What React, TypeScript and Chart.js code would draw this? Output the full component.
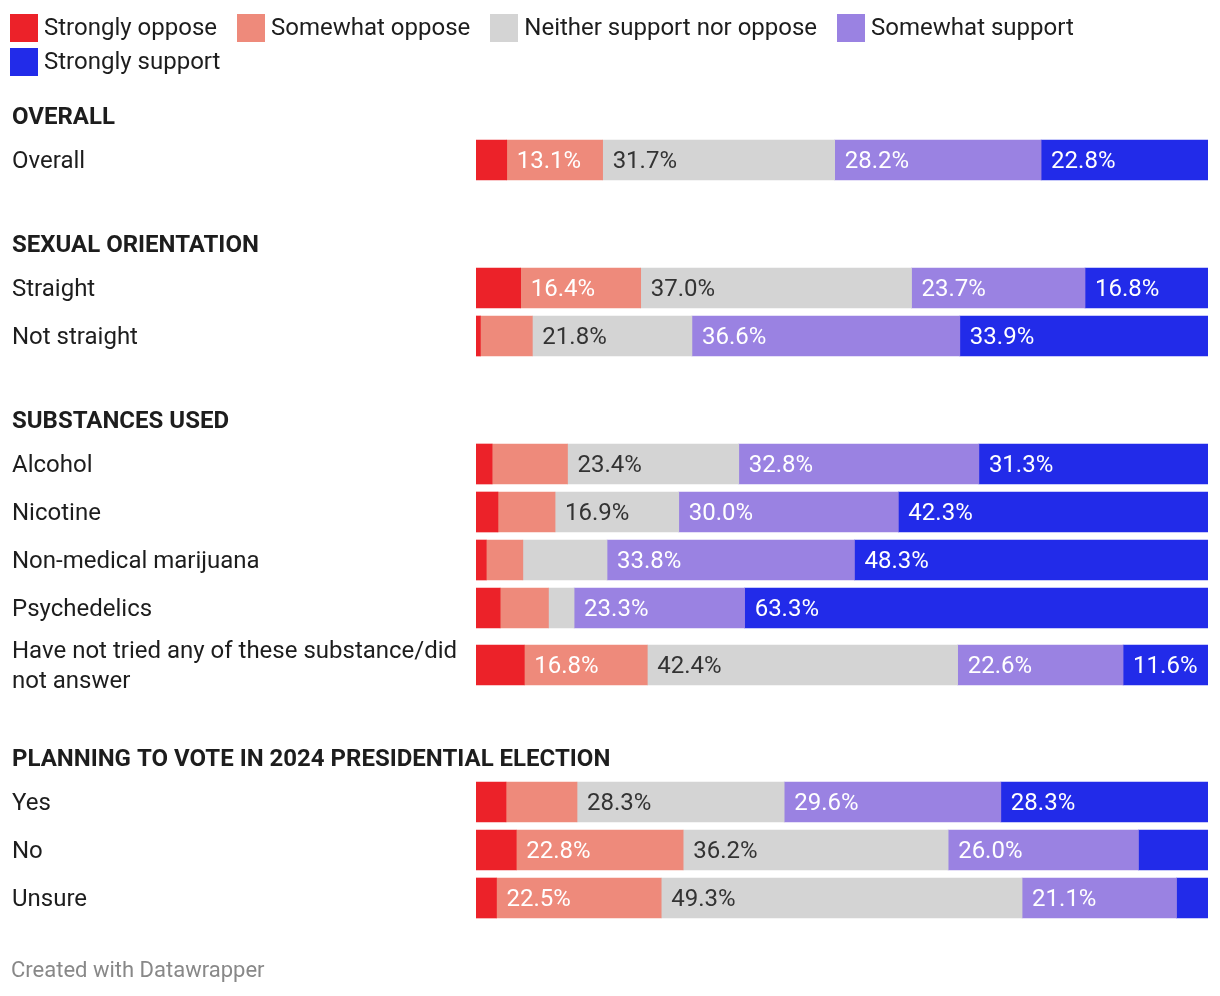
import React, { useEffect, useRef } from "react";
import { Chart, registerables } from "chart.js";

Chart.register(...registerables);

// ---------- data ----------
const SERIES = [
  "Strongly oppose",
  "Somewhat oppose",
  "Neither support nor oppose",
  "Somewhat support",
  "Strongly support",
];
const COLORS = ["#ec2229", "#ee8a7b", "#d4d4d4", "#9a82e2", "#222be9"];
const LABEL_COLORS = ["#ffffff", "#ffffff", "#333333", "#ffffff", "#ffffff"];

const GROUPS = [
  "OVERALL",
  "SEXUAL ORIENTATION",
  "SUBSTANCES USED",
  "PLANNING TO VOTE IN 2024 PRESIDENTIAL ELECTION",
];

const ROW_LABELS: (string | string[])[] = [
  "Overall",
  "Straight",
  "Not straight",
  "Alcohol",
  "Nicotine",
  "Non-medical marijuana",
  "Psychedelics",
  ["Have not tried any of these substance/did", "not answer"],
  "Yes",
  "No",
  "Unsure",
];
const ROW_GROUP = [0, 1, 1, 2, 2, 2, 2, 2, 3, 3, 3];

const stronglyOppose = [4.2, 6.1, 0.6, 2.2, 3.0, 1.4, 3.3, 6.6, 4.1, 5.5, 2.8];
const somewhatOppose = [13.1, 16.4, 7.1, 10.3, 7.8, 5.0, 6.6, 16.8, 9.7, 22.8, 22.5];
const neither = [31.7, 37.0, 21.8, 23.4, 16.9, 11.5, 3.5, 42.4, 28.3, 36.2, 49.3];
const somewhatSupport = [28.2, 23.7, 36.6, 32.8, 30.0, 33.8, 23.3, 22.6, 29.6, 26.0, 21.1];
const stronglySupport = [22.8, 16.8, 33.9, 31.3, 42.3, 48.3, 63.3, 11.6, 28.3, 9.5, 4.3];

const SERIES_VALUES = [stronglyOppose, somewhatOppose, neither, somewhatSupport, stronglySupport];

// values below this are left unlabelled (segment too narrow for its label)
const LABEL_MIN = 11.55;

// ---------- layout ----------
const W = 1220;
const H = 996;
const FONT = "Roboto, 'Noto Sans', sans-serif";
const FONT_SIZE = 24;
const TEXT_COLOR = "#1d1d1d";
const PAD = { top: 30, bottom: 30, left: 12, right: 12 };
const LABEL_COL = 464;
const FIRST_HEADING = 116;
const HEADING_TO_ROW = 44;
const BAR_H = 40;
const ROW_GAP = 8;
const LINE_H = 29;
const GROUP_GAP = 60;
const TEXT_NUDGE = 2; // canvas "middle" baseline sits slightly high for Roboto

// vertical positions (in y-scale units) of group headings and rows
function computeLayout() {
  const headingPos: number[] = [];
  const rowPos: number[] = [];
  let prevBottom = 0;
  GROUPS.forEach((_, gi) => {
    const hy = gi === 0 ? FIRST_HEADING : prevBottom + GROUP_GAP;
    headingPos.push(hy);
    let top = hy + HEADING_TO_ROW - (BAR_H + ROW_GAP) / 2;
    ROW_LABELS.forEach((lab, ri) => {
      if (ROW_GROUP[ri] !== gi) return;
      const lines = Array.isArray(lab) ? lab.length : 1;
      const h = Math.max(BAR_H, lines * LINE_H) + ROW_GAP;
      rowPos[ri] = top + h / 2;
      top += h;
    });
    prevBottom = top;
  });
  return { headingPos, rowPos };
}

export default function App() {
  const ref = useRef<HTMLCanvasElement | null>(null);

  useEffect(() => {
    document.body.style.margin = "0";
    const canvas = ref.current;
    if (!canvas) return;
    const { headingPos, rowPos } = computeLayout();

    const rowLabelAt = new Map<number, string | string[]>();
    rowPos.forEach((p, i) => rowLabelAt.set(p, ROW_LABELS[i]));

    const datasets = SERIES.map((name, si) => ({
      label: name,
      data: SERIES_VALUES[si].map((v, ri) => ({ x: v, y: rowPos[ri] })),
      backgroundColor: COLORS[si],
      borderWidth: 0,
      barThickness: BAR_H,
    }));

    const valueLabels = {
      id: "valueLabels",
      afterDatasetsDraw(chart: any) {
        const ctx = chart.ctx;
        ctx.save();
        ctx.font = `400 ${FONT_SIZE}px ${FONT}`;
        ctx.textAlign = "left";
        ctx.textBaseline = "middle";
        chart.data.datasets.forEach((_ds: any, si: number) => {
          const meta = chart.getDatasetMeta(si);
          meta.data.forEach((el: any, ri: number) => {
            const v = SERIES_VALUES[si][ri];
            if (v < LABEL_MIN) return;
            const left = Math.min(el.base, el.x);
            ctx.fillStyle = LABEL_COLORS[si];
            ctx.fillText(v.toFixed(1) + "%", left + 10, el.y + TEXT_NUDGE);
          });
        });
        ctx.restore();
      },
    };

    const groupHeadings = {
      id: "groupHeadings",
      afterDraw(chart: any) {
        const ctx = chart.ctx;
        const yScale = chart.scales.y;
        ctx.save();
        ctx.font = `700 ${FONT_SIZE}px ${FONT}`;
        ctx.textAlign = "left";
        ctx.textBaseline = "middle";
        ctx.fillStyle = TEXT_COLOR;
        headingPos.forEach((p, gi) => {
          ctx.fillText(GROUPS[gi], yScale.left, yScale.getPixelForValue(p) + TEXT_NUDGE);
        });
        ctx.restore();
      },
    };

    const chart = new Chart(canvas, {
      type: "bar",
      data: { datasets: datasets as any },
      options: {
        indexAxis: "y",
        responsive: false,
        animation: false,
        devicePixelRatio: 1,
        events: [],
        layout: { padding: PAD },
        plugins: { legend: { display: false }, tooltip: { enabled: false } },
        scales: {
          x: {
            type: "linear",
            min: 0,
            max: 100,
            stacked: true,
            display: false,
          },
          y: {
            type: "linear",
            min: PAD.top,
            max: H - PAD.bottom,
            reverse: true,
            stacked: true,
            offset: false,
            bounds: "data",
            grid: { display: false },
            border: { display: false },
            afterBuildTicks: (scale: any) => {
              scale.ticks = rowPos.map((v) => ({ value: v }));
            },
            afterFit: (scale: any) => {
              scale.width = LABEL_COL;
            },
            ticks: {
              autoSkip: false,
              padding: 0,
              labelOffset: TEXT_NUDGE,
              crossAlign: "far",
              callback: (value: any) => rowLabelAt.get(Number(value)) ?? "",
              font: { family: FONT, size: FONT_SIZE, weight: "normal", lineHeight: "30px" },
              color: TEXT_COLOR,
            },
          },
        },
      },
      plugins: [valueLabels, groupHeadings],
    });

    return () => chart.destroy();
  }, []);

  return (
    <div
      style={{
        position: "relative",
        width: W,
        height: H,
        background: "#ffffff",
        fontFamily: FONT,
        overflow: "hidden",
      }}
    >
      <canvas ref={ref} width={W} height={H} style={{ position: "absolute", left: 0, top: 0 }} />
      <div
        style={{
          position: "absolute",
          left: 10,
          top: 14,
          width: 1200,
          display: "flex",
          flexWrap: "wrap",
          columnGap: 20,
          rowGap: 6,
        }}
      >
        {SERIES.map((s, i) => (
          <div key={s} style={{ display: "flex", alignItems: "center", height: 28 }}>
            <span
              style={{
                display: "inline-block",
                width: 28,
                height: 28,
                background: COLORS[i],
                marginRight: 6,
              }}
            />
            <span
              style={{
                fontSize: FONT_SIZE,
                color: TEXT_COLOR,
                lineHeight: "28px",
                position: "relative",
                top: -1,
              }}
            >
              {s}
            </span>
          </div>
        ))}
      </div>
      <div
        style={{
          position: "absolute",
          left: 11,
          top: 955,
          fontSize: 22,
          lineHeight: "30px",
          color: "#888888",
        }}
      >
        Created with Datawrapper
      </div>
    </div>
  );
}
